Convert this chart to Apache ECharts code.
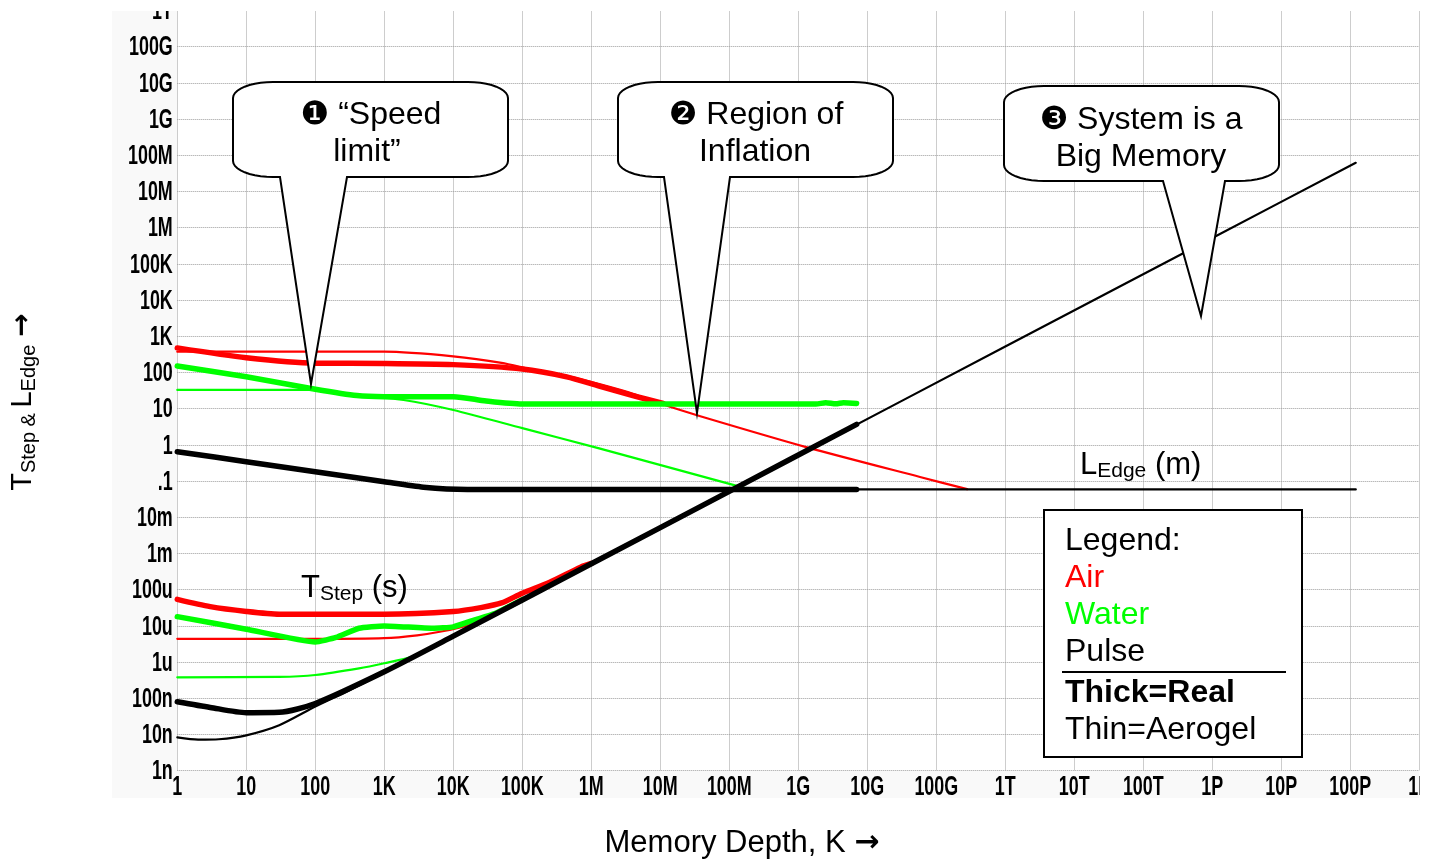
<!DOCTYPE html>
<html>
<head>
<meta charset="utf-8">
<script src="https://cdn.jsdelivr.net/npm/echarts@6/dist/echarts.min.js"></script>
<style>
  html, body { margin: 0; padding: 0; background: #ffffff; }
  #chart { width: 1429px; height: 861px; }
</style>
</head>
<body>
<div id="chart"></div>
<script>
// Decade tick labels (engineering prefixes)
const xTickLabels = ['1','10','100','1K','10K','100K','1M','10M','100M','1G','10G','100G','1T','10T','100T','1P','10P','100P','1E'];
const yTickLabels = ['1n','10n','100n','1u','10u','100u','1m','10m','.1','1','10','100','1K','10K','100K','1M','10M','100M','1G','10G','100G','1T'];

// L_Edge (m) versus memory depth K
const airEdgeReal = [[1,478],[10,255],[100,180],[1e3,178],[1e4,165],[1e5,125],[4.4e5,76],[1.3e6,42],[4e6,23],[1.1e7,14]];
const airEdgeAerogel = [[1,376],[1e3,376],[1e4,280],[5e4,185],[1.4e5,120],[4.5e5,80],[1.35e6,47],[4e6,26],[1.1e7,13],[3.8e7,6.2],[1.3e9,0.87],[5.8e10,0.13],[2.8e11,0.06]];
const waterEdgeReal = [[1,151],[10,76],[100,34.5],[400,23],[1e3,21.5],[1e4,21.5],[3e4,16.3],[1e5,13.5],[1e6,13.5],[1e7,13.5],[1e8,13.5],[1.8e9,13.5],[2.5e9,14.6],[3.5e9,13.6],[4.5e9,14.6],[7e9,14]];
const waterEdgeAerogel = [[1,33],[100,33],[400,23],[1.9e3,17.4],[1e4,9.2],[1e5,2.9],[1.3e6,0.8],[1.8e8,0.062]];
const pulseEdgeReal = [[1,0.65],[10,0.344],[100,0.182],[1e3,0.096],[3.7e3,0.068],[1.6e4,0.059],[7e9,0.059]];
const pulseEdgeAerogel = [[1.6e4,0.059],[1.2e17,0.059]];

// T_Step (s) versus memory depth K
const airStepReal = [[1,5.4e-5],[3,3.4e-5],[10,2.5e-5],[30,2.1e-5],[1e3,2.1e-5],[1e4,2.5e-5],[2.5e4,3.2e-5],[5e4,4.3e-5],[1e5,8e-5],[2.5e5,1.6e-4],[7e5,4.2e-4],[1e6,5.3e-4]];
const airStepAerogel = [[1,4.4e-6],[100,4.4e-6],[1e3,4.6e-6],[3e3,5.5e-6],[7e3,7.1e-6],[1.5e4,1e-5],[3e4,1.7e-5],[1e5,5.3e-5]];
const waterStepReal = [[1,1.8e-5],[10,8.1e-6],[100,3.6e-6],[200,4.8e-6],[430,8.6e-6],[1e3,1e-5],[5e3,8.6e-6],[1e4,9.4e-6],[2e4,1.45e-5],[4e4,2.2e-5],[1e5,5.3e-5]];
const waterStepAerogel = [[1,3.8e-7],[30,3.9e-7],[100,4.4e-7],[430,6.7e-7],[1e3,9.3e-7],[2.5e3,1.4e-6],[5e3,2.6e-6],[1e4,5.3e-6]];
const pulseStepReal = [[1,8.05e-8],[3,5.6e-8],[10,4e-8],[30,4.1e-8],[100,7.2e-8],[1e3,5.4e-7],[1e4,5.2e-6],[1e6,5.2e-4],[1e8,5.2e-2],[7e9,3.7]];
const pulseStepAerogel = [[1,8.3e-9],[2,7.2e-9],[4,7.4e-9],[10,9.5e-9],[30,1.8e-8],[100,5.9e-8],[300,1.6e-7],[1e3,5.2e-7],[1e6,5.2e-4],[1e9,0.52],[1e12,520],[1e15,5.2e5],[1.2e17,6.2e7]];

const RED = '#ff0000', GREEN = '#00ff00', BLACK = '#000000';
const THICK = 5.5, THIN = 2.2;

function line(name, data, color, width, smooth) {
  return {
    name, type: 'line', data, showSymbol: false, symbol: 'none',
    smooth: smooth === undefined ? 0.25 : smooth,
    lineStyle: { color, width, cap: 'round', join: 'round' },
    emphasis: { disabled: true }, silent: true
  };
}

// quarter-ellipse corner points, from angle a0 to a1 (radians)
function arc(cx, cy, rx, ry, a0, a1, pts) {
  const n = 10;
  for (let i = 0; i <= n; i++) {
    const a = a0 + (a1 - a0) * i / n;
    pts.push([cx + rx * Math.cos(a), cy + ry * Math.sin(a)]);
  }
}
// speech-bubble outline with elliptical corners and a wedge pointer
function bubblePoints(x0, y0, x1, y1, rx, ry, pa, pb, tx, ty) {
  const pts = [];
  const P = Math.PI;
  arc(x1 - rx, y0 + ry, rx, ry, -P / 2, 0, pts);      // top-right
  arc(x1 - rx, y1 - ry, rx, ry, 0, P / 2, pts);       // bottom-right
  pts.push([pb, y1], [tx, ty], [pa, y1]);
  arc(x0 + rx, y1 - ry, rx, ry, P / 2, P, pts);       // bottom-left
  arc(x0 + rx, y0 + ry, rx, ry, P, 1.5 * P, pts);     // top-left
  return pts;
}

const FONT = '"Liberation Sans", Arial, "DejaVu Sans", sans-serif';
const ARROWFONT = '"DejaVu Sans", "Liberation Sans", sans-serif';
const TICKFONT = 'bold 28px "Liberation Sans", Arial, sans-serif';
const TICK_SQUEEZE = 0.64;   // tall, narrow tick numerals

function calloutText(x, y, text) {
  return { type: 'text', x, y, z: 61,
    style: { text, font: '32px ' + FONT, fill: '#000', align: 'center', verticalAlign: 'middle' } };
}
function callout(x0, y0, x1, y1, pa, pb, tx, ty) {
  return { type: 'polygon', z: 60,
    shape: { points: bubblePoints(x0, y0, x1, y1, 40, 16, pa, pb, tx, ty) },
    style: { fill: '#ffffff', stroke: '#000', lineWidth: 2, lineJoin: 'miter' } };
}
function legendText(y, text, color, bold) {
  return { type: 'text', x: 1065, y, z: 71,
    style: { text, font: (bold ? 'bold ' : '') + '32px ' + FONT, fill: color, align: 'left', verticalAlign: 'middle' } };
}

const subRich = {
  b: { fontSize: 31, fontFamily: FONT, color: '#000', lineHeight: 34 },
  s: { fontSize: 21, fontFamily: FONT, color: '#000', lineHeight: 15, verticalAlign: 'bottom' }
};

const chart = echarts.init(document.getElementById('chart'), null, { renderer: 'canvas' });
chart.setOption({
  animation: false,
  backgroundColor: '#ffffff',
  grid: { left: 177.3, right: 9.7, top: 10.5, bottom: 90.3, show: true, backgroundColor: '#ffffff', borderWidth: 0 },
  xAxis: {
    type: 'log', logBase: 10, min: 1, max: 1e18, interval: 1, splitNumber: 18,
    axisLine: { show: false }, axisTick: { show: false }, axisLabel: { show: false },
    splitLine: { show: true, lineStyle: { type: 'dotted', color: '#9c9c9c', width: 1 } }
  },
  yAxis: {
    type: 'log', logBase: 10, min: 1e-9, max: 1e12, interval: 1, splitNumber: 21,
    axisLine: { show: false }, axisTick: { show: false }, axisLabel: { show: false },
    splitLine: { show: true, lineStyle: { type: 'dotted', color: '#9c9c9c', width: 1 } }
  },
  series: [
    line('Air L_Edge Aerogel', airEdgeAerogel, RED, THIN),
    line('Air L_Edge Real', airEdgeReal, RED, THICK),
    line('Air T_Step Aerogel', airStepAerogel, RED, THIN),
    line('Air T_Step Real', airStepReal, RED, THICK),
    line('Water L_Edge Aerogel', waterEdgeAerogel, GREEN, THIN),
    line('Water L_Edge Real', waterEdgeReal, GREEN, THICK),
    line('Water T_Step Aerogel', waterStepAerogel, GREEN, THIN),
    line('Water T_Step Real', waterStepReal, GREEN, THICK, 0.15),
    line('Pulse L_Edge Aerogel', pulseEdgeAerogel, BLACK, THIN, false),
    line('Pulse L_Edge Real', pulseEdgeReal, BLACK, THICK),
    line('Pulse T_Step Aerogel', pulseStepAerogel, BLACK, THIN),
    line('Pulse T_Step Real', pulseStepReal, BLACK, THICK)
  ]
});

// Decade labels in a condensed face, placed through the axes' own scales
const tickText = [];
xTickLabels.forEach((label, i) => {
  const px = chart.convertToPixel({ xAxisIndex: 0 }, Math.pow(10, i));
  const py = chart.convertToPixel({ yAxisIndex: 0 }, 1e-9);
  tickText.push({ type: 'text', x: px, y: py + 17, scaleX: TICK_SQUEEZE, z: 50,
    style: { text: label, font: TICKFONT, fill: '#000', align: 'center', verticalAlign: 'middle' } });
});
yTickLabels.forEach((label, i) => {
  const px = chart.convertToPixel({ xAxisIndex: 0 }, 1);
  const py = chart.convertToPixel({ yAxisIndex: 0 }, Math.pow(10, i - 9));
  tickText.push({ type: 'text', x: px - 4.5, y: py + 1, scaleX: TICK_SQUEEZE, z: 50,
    style: { text: label, font: TICKFONT, fill: '#000', align: 'right', verticalAlign: 'middle' } });
});

chart.setOption({
  graphic: [
    // page area of the plot picture
    { type: 'rect', z: -100, shape: { x: 112, y: 10, width: 1307, height: 788 }, style: { fill: '#f9f9f9' } },

    ...tickText,

    // callouts
    callout(233, 82, 508, 177, 280, 347, 311, 384),
    calloutText(371, 115, '\u2776 \u201CSpeed'),
    calloutText(367, 152, 'limit\u201D'),
    callout(618, 82, 893, 177, 664, 730, 697, 413),
    calloutText(756, 115, '\u2777 Region of'),
    calloutText(755, 152, 'Inflation'),
    callout(1004, 86, 1279, 181, 1163, 1225, 1201, 316),
    calloutText(1141, 120, '\u2778 System is a'),
    calloutText(1141, 157, 'Big Memory'),

    // curve-group labels
    { type: 'text', x: 301, y: 588, z: 55,
      style: { text: '{b|T}{s|Step}{b| (s)}', rich: subRich, align: 'left', verticalAlign: 'middle' } },
    { type: 'text', x: 1080, y: 465, z: 55,
      style: { text: '{b|L}{s|Edge}{b| (m)}', rich: subRich, align: 'left', verticalAlign: 'middle' } },

    // legend box
    { type: 'rect', z: 70, shape: { x: 1044, y: 510, width: 258, height: 247 },
      style: { fill: '#ffffff', stroke: '#000', lineWidth: 2 } },
    legendText(541, 'Legend:', '#000'),
    legendText(578, 'Air', RED),
    legendText(615, 'Water', GREEN),
    legendText(652, 'Pulse', '#000'),
    { type: 'line', z: 71, shape: { x1: 1062, y1: 672, x2: 1286, y2: 672 }, style: { stroke: '#000', lineWidth: 2 } },
    legendText(693, 'Thick=Real', '#000', true),
    legendText(730, 'Thin=Aerogel', '#000'),

    // axis titles
    { type: 'text', x: 742, y: 843, z: 55,
      style: { text: '{t|Memory Depth, K }{a|\u2192}', rich: {
        t: { fontSize: 31, fontFamily: FONT, color: '#000' },
        a: { fontSize: 30, fontFamily: ARROWFONT, fontWeight: 'bold', color: '#000' } },
        align: 'center', verticalAlign: 'middle' } },
    { type: 'text', x: 23, y: 402, z: 55, rotation: Math.PI / 2,
      style: { text: '{b|T}{s|Step & }{b|L}{s|Edge}{b| }{a|\u2192}', rich: {
        b: { fontSize: 29, fontFamily: FONT, color: '#000', lineHeight: 32 },
        s: { fontSize: 20, fontFamily: FONT, color: '#000', lineHeight: 14, verticalAlign: 'bottom' },
        a: { fontSize: 28, fontFamily: ARROWFONT, fontWeight: 'bold', color: '#000', lineHeight: 32 } },
        align: 'center', verticalAlign: 'middle' } },

    // picture edges: trim at the top and right
    { type: 'rect', z: 200, shape: { x: 0, y: 0, width: 1429, height: 11 }, style: { fill: '#ffffff' } },
    { type: 'rect', z: 200, shape: { x: 1420, y: 0, width: 9, height: 861 }, style: { fill: '#ffffff' } }
  ]
});
</script>
</body>
</html>
